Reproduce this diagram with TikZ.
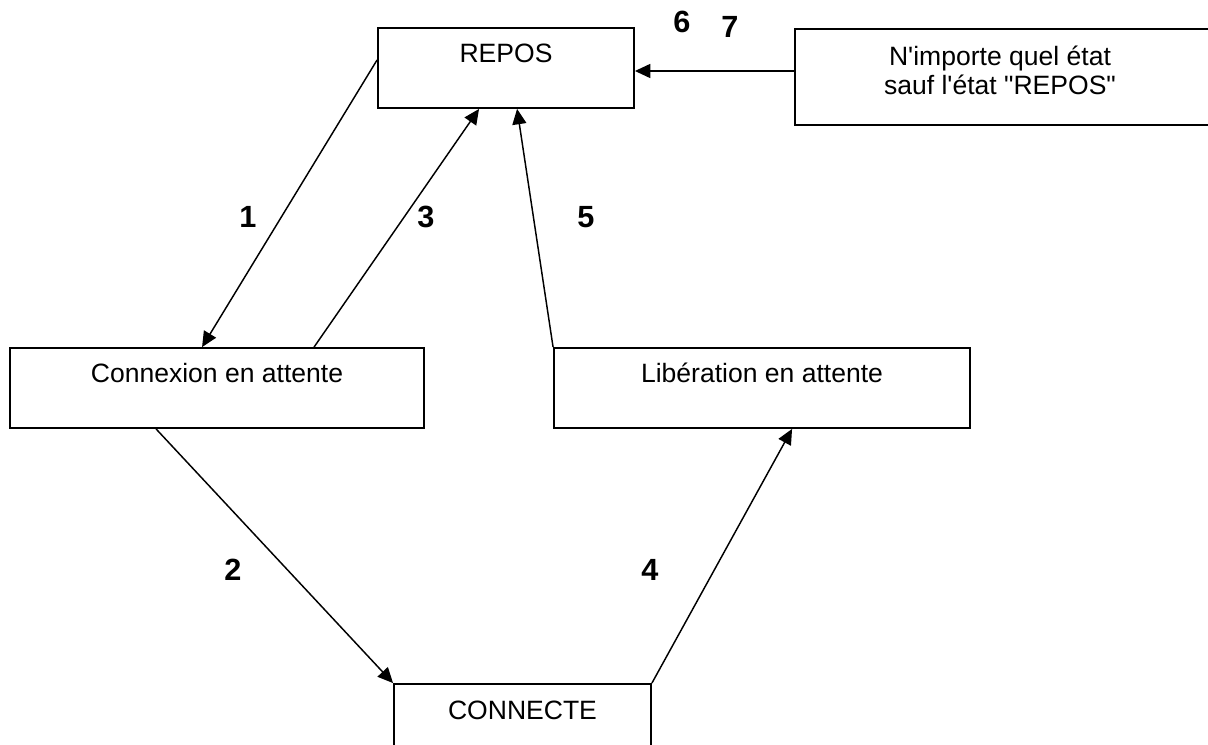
\documentclass[tikz,border=0pt]{standalone}
\usepackage{fontspec}
\setmainfont{Liberation Sans}[Ligatures=TeXOff]
\usetikzlibrary{arrows.meta,calc}
\begin{document}
\begin{tikzpicture}[x=0.75pt,y=-0.75pt,
  statebox/.style={draw,line width=1.4pt,rectangle,inner xsep=0pt,inner ysep=0pt,
    text height=26.25pt,text depth=33.75pt,anchor=base,
    font=\fontsize{19.9}{21.75}\selectfont},
  conn/.style={line width=1.1pt,-{Triangle[length=11.5pt,width=10.5pt]}},
  num/.style={inner sep=0pt,font=\fontsize{23}{26}\selectfont\bfseries}]
\useasboundingbox (0,0) rectangle (1208,745);
\clip (0,0) rectangle (1208,745);
\node[statebox,minimum width=192pt] (repos) at (506,63) {REPOS};
\node[statebox,minimum width=310.5pt] (attc) at (217,383) {Connexion en attente};
\node[statebox,minimum width=312pt] (libe) at (762,383) {Libération en attente};
\node[statebox,minimum width=192.75pt] (cnx) at (522.5,719) {CONNECTE};
\node[draw,line width=1.4pt,rectangle,inner sep=0pt,minimum width=313.5pt,minimum height=72pt,anchor=north west] (autre) at (794,28) {};
\node[align=center,inner sep=0pt,font=\fontsize{19.9}{21.75}\selectfont] (autretxt) at (1000,70.5) {N'importe quel état\\sauf l'état "REPOS"};
% connectors
\draw[conn] ($(repos.west)+(0,-8)$) -- ($(attc.north west)+(193,0)$);
\draw[conn] ($(attc.north west)+(305,0)$) -- ($(repos.south west)+(102,0)$);
\draw[conn] (libe.north west) -- ($(repos.south west)+(140,0)$);
\coordinate (e67) at ($(repos.east)+(0,3)$);
\draw[conn] (autre.west |- e67) -- (e67);
\draw[conn] ($(attc.south west)+(147,0)$) -- (cnx.north west);
\draw[conn] (cnx.north east) -- ($(libe.south west)+(239,0)$);
% labels
\node[num] (n1) at (248,217) {1};
\node[num] (n3) at (426,217) {3};
\node[num] (n5) at (586,217) {5};
\node[num] (n2) at (233,570) {2};
\node[num] (n4) at (650,570) {4};
\node[num] (n6) at (682,22) {6};
\node[num] (n7) at (730,27) {7};
\end{tikzpicture}
\end{document}
